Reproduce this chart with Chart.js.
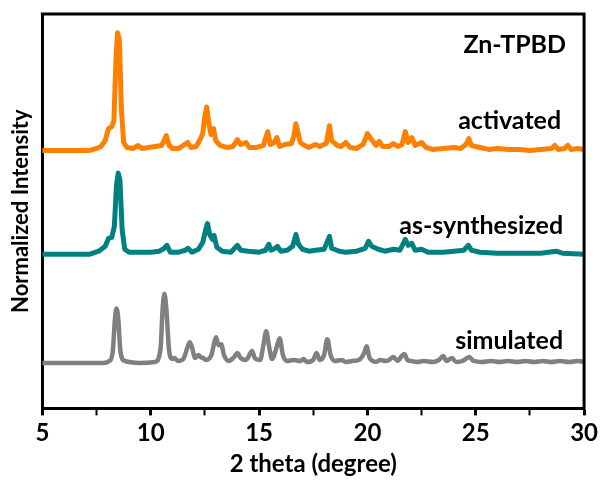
<!DOCTYPE html>
<html>
<head>
<meta charset="utf-8">
<script src="https://cdn.jsdelivr.net/npm/chart.js@4.4.1/dist/chart.umd.min.js"></script>
<style>
  html, body { margin: 0; padding: 0; background: #fff; }
  #wrap { width: 601px; height: 481px; }
</style>
</head>
<body>
<div id="wrap"><canvas id="xrd"></canvas></div>
<script>
// 2 theta (degree) and intensity readings, per pattern
const activatedTheta = [5.0, 7.2, 7.5, 7.7, 7.9, 8.05, 8.2, 8.3, 8.4, 8.47, 8.55, 8.65, 8.75, 8.9, 9.2, 9.4, 9.6, 9.9,
  10.2, 10.5, 10.62, 10.72, 10.85, 11.0, 11.3, 11.5, 11.7, 11.85, 12.1, 12.3, 12.4, 12.5, 12.58, 12.68, 12.78, 12.9,
  13.0, 13.2, 13.5, 13.8, 14.0, 14.15, 14.4, 14.55, 14.9, 15.2, 15.4, 15.52, 15.7, 15.82, 15.95, 16.2, 16.5, 16.6,
  16.7, 16.8, 16.9, 17.1, 17.3, 17.6, 17.8, 18.1, 18.25, 18.35, 18.6, 18.8, 19.0, 19.2, 19.5, 19.8, 20.0, 20.15,
  20.4, 20.55, 20.7, 21.0, 21.2, 21.4, 21.6, 21.75, 21.88, 22.05, 22.2, 22.5, 22.7, 23.0, 23.5, 24.0, 24.3, 24.55,
  24.68, 24.8, 25.2, 25.6, 26.0, 26.5, 27.0, 27.5, 28.0, 28.5, 28.65, 28.8, 29.1, 29.25, 29.4, 29.7, 30.0];
const activatedInt = [0, 0, 2, 4, 10, 22, 24, 30, 95, 119, 112, 40, 8, 3, 2, 5, 2, 3,
  4, 5, 10, 15, 5, 2, 2, 5, 8, 3, 4, 12, 17, 35, 44, 28, 16, 22,
  10, 5, 3, 4, 11, 6, 8, 3, 3, 5, 19, 6, 8, 13, 4, 6, 7, 14,
  27, 18, 8, 5, 3, 6, 4, 7, 25, 10, 5, 4, 8, 3, 2, 6, 17, 12,
  5, 9, 4, 4, 7, 4, 6, 19, 8, 13, 5, 8, 3, 1, 2, 3, 2, 6,
  12, 5, 3, 1, 2, 1, 1, 0, 1, 2, 5, 1, 2, 5, 1, 2, 1];

const synthTheta = [5.0, 7.2, 7.6, 7.9, 8.05, 8.2, 8.32, 8.42, 8.5, 8.58, 8.68, 8.8, 9.0, 9.5, 10.0, 10.4, 10.62, 10.75,
  10.9, 11.3, 11.6, 11.72, 11.9, 12.2, 12.4, 12.55, 12.62, 12.72, 12.85, 12.92, 13.05, 13.3, 13.7, 14.0, 14.15, 14.5,
  15.0, 15.3, 15.45, 15.55, 15.75, 15.85, 16.0, 16.3, 16.55, 16.7, 16.82, 17.0, 17.3, 17.6, 18.0, 18.25, 18.35, 18.7,
  19.0, 19.5, 19.9, 20.05, 20.2, 20.5, 20.8, 21.2, 21.5, 21.75, 21.88, 22.05, 22.2, 22.5, 22.8, 23.5, 24.0, 24.45,
  24.66, 24.8, 25.2, 26.0, 27.0, 28.0, 28.7, 29.0, 30.0];
const synthInt = [0, 0, 3, 8, 16, 17, 28, 70, 82, 75, 25, 5, 2, 2, 2, 3, 6, 9,
  2, 2, 4, 6, 2, 5, 12, 26, 31, 20, 15, 19, 7, 3, 2, 9, 4, 3,
  2, 4, 10, 4, 6, 8, 3, 4, 8, 20, 10, 5, 3, 4, 5, 18, 6, 3,
  2, 3, 6, 13, 8, 5, 3, 5, 4, 15, 9, 11, 4, 5, 2, 2, 3, 4,
  9, 4, 2, 1, 1, 1, 3, 1, 0];

const simTheta = [5.0, 7.8, 8.1, 8.25, 8.35, 8.42, 8.5, 8.6, 8.8, 9.5, 10.2, 10.45, 10.55, 10.63, 10.72, 10.85, 11.0,
  11.1, 11.25, 11.5, 11.7, 11.8, 11.9, 12.05, 12.2, 12.3, 12.42, 12.55, 12.8, 12.95, 13.02, 13.12, 13.25, 13.38, 13.6,
  13.85, 14.0, 14.15, 14.4, 14.6, 14.68, 14.8, 15.05, 15.2, 15.33, 15.45, 15.6, 15.8, 15.95, 16.1, 16.3, 16.6, 16.9,
  17.05, 17.2, 17.5, 17.65, 17.8, 18.0, 18.15, 18.3, 18.5, 18.8, 19.0, 19.3, 19.6, 19.85, 19.96, 20.1, 20.4, 20.6,
  20.85, 21.0, 21.2, 21.4, 21.55, 21.7, 21.85, 22.0, 22.3, 22.6, 23.0, 23.3, 23.5, 23.65, 23.9, 24.1, 24.4, 24.7,
  24.9, 25.3, 25.7, 26.1, 26.5, 26.9, 27.3, 27.7, 28.1, 28.5, 28.9, 29.3, 29.7, 30.0];
const simInt = [0, 0, 2, 12, 45, 55, 45, 12, 2, 0, 1, 14, 55, 70, 55, 12, 4,
  5, 2, 4, 16, 21, 16, 5, 8, 6, 5, 3, 8, 22, 26, 18, 19, 8, 2,
  6, 10, 5, 3, 10, 12, 5, 3, 18, 32, 18, 4, 15, 25, 8, 2, 3, 2,
  4, 1, 3, 10, 3, 8, 24, 8, 2, 3, 1, 2, 3, 10, 17, 5, 1, 3,
  2, 3, 6, 2, 6, 9, 3, 2, 1, 2, 1, 3, 7, 2, 5, 1, 2, 6,
  2, 1, 2, 1, 2, 1, 2, 1, 2, 1, 2, 1, 2, 1];

const seriesNames = ['activated', 'as-synthesized', 'simulated'];
const seriesOffsets = [261, 156, 46];
const xTickLabels = [5, 10, 15, 20, 25, 30];

function toPoints(theta, ints, offset) {
  return theta.map(function (t, i) { return { x: t, y: ints[i] + offset }; });
}

const FONT = 'Lato, "Open Sans", sans-serif';

// text labels at the right side of each pattern
const labelPlugin = {
  id: 'labels',
  afterDatasetsDraw: function (chart) {
    const c = chart.ctx;
    const xs = chart.scales.x, ys = chart.scales.y;
    const a = chart.chartArea;
    c.save();
    // top and right frame lines
    c.strokeStyle = '#000';
    c.lineWidth = 3;
    c.beginPath();
    c.moveTo(a.left - 1.5, a.top);
    c.lineTo(a.right, a.top);
    c.lineTo(a.right, a.bottom + 1.5);
    c.stroke();

    c.fillStyle = '#000';
    c.font = 'bold 25px ' + FONT;
    c.textAlign = 'right';
    c.textBaseline = 'middle';
    c.fillText('Zn-TPBD', xs.getPixelForValue(29.17), ys.getPixelForValue(368));
    c.fillText('activated', xs.getPixelForValue(28.94), ys.getPixelForValue(291));
    c.fillText('as-synthesized', xs.getPixelForValue(29.03), ys.getPixelForValue(185));
    c.fillText('simulated', xs.getPixelForValue(29.03), ys.getPixelForValue(68));
    c.restore();
  }
};

new Chart(document.getElementById('xrd'), {
  type: 'line',
  data: {
    datasets: [
      {
        label: seriesNames[0],
        data: toPoints(activatedTheta, activatedInt, seriesOffsets[0]),
        borderColor: '#ff8000',
        borderWidth: 5,
      },
      {
        label: seriesNames[1],
        data: toPoints(synthTheta, synthInt, seriesOffsets[1]),
        borderColor: '#008080',
        borderWidth: 5,
      },
      {
        label: seriesNames[2],
        data: toPoints(simTheta, simInt, seriesOffsets[2]),
        borderColor: '#808080',
        borderWidth: 4.5,
        cubicInterpolationMode: 'monotone',
      },
    ],
  },
  options: {
    responsive: true,
    maintainAspectRatio: false,
    animation: false,
    elements: { point: { radius: 0 }, line: { tension: 0, borderJoinStyle: 'round', borderCapStyle: 'round' } },
    layout: { autoPadding: false, padding: { top: 14, right: 15, bottom: 2, left: 2 } },
    plugins: { legend: { display: false }, tooltip: { enabled: false } },
    scales: {
      x: {
        type: 'linear',
        min: 5,
        max: 30,
        border: { display: true, color: '#000', width: 3 },
        grid: { drawOnChartArea: false, drawTicks: true, tickLength: 7, tickColor: '#000',
          tickWidth: function (ctx) { return ctx.tick && ctx.tick.value % 5 === 0 ? 3 : 2; } },
        ticks: {
          stepSize: 2.5,
          color: '#000',
          padding: 3,
          maxRotation: 0,
          autoSkip: false,
          font: { family: FONT, size: 24, weight: 'bold' },
          callback: function (v) { return xTickLabels.indexOf(v) >= 0 ? String(v) : ''; },
        },
        title: {
          display: true,
          text: '2 theta (degree)',
          color: '#000',
          padding: { top: 0, bottom: 0 },
          font: { family: FONT, size: 24, weight: 'bold' },
        },
      },
      y: {
        min: 0,
        max: 399,
        border: { display: true, color: '#000', width: 3 },
        grid: { display: false },
        ticks: { display: false },
        title: {
          display: true,
          text: 'Normalized Intensity',
          color: '#000',
          padding: { top: 6, bottom: 0 },
          font: { family: FONT, size: 22, weight: 'bold' },
        },
      },
    },
  },
  plugins: [labelPlugin],
});
</script>
</body>
</html>
